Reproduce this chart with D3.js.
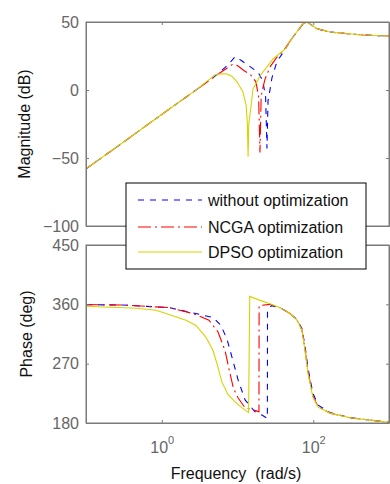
<!DOCTYPE html>
<html>
<head>
<meta charset="utf-8">
<script src="https://cdn.jsdelivr.net/npm/d3@7"></script>
<style>
  html, body { margin: 0; padding: 0; background: #fff; }
  svg { display: block; font-family: "Liberation Sans", Arial, sans-serif; }
  text { white-space: pre; }
</style>
</head>
<body>
<svg id="chart" width="390" height="484"></svg>
<script>
// Bode response of the system for three controller settings: [frequency rad/s, value]
const seriesNames = ["without optimization", "NCGA optimization", "DPSO optimization"];

const magWithout = [[0.1,-58],[0.3,-39],[1,-18],[3,1],[5,10],[7,17],[8.5,22],[9.3,24.5],[11,22],[14,18],[18.7,13],[21.5,7],[23.5,-5],[24.5,-43],[25.3,-8],[26.1,-4],[28.5,9],[33.2,21],[39.9,27.5],[54,39],[73,48.5],[83,50],[112,45],[166,42.6],[454,40.4],[1000,39.7]];
const magNCGA = [[0.1,-58],[0.3,-39],[1,-18],[3,1],[5,10],[7,15.5],[8.7,19],[10,18],[12,14.5],[15,11],[17.5,6],[19,-5],[19.8,-46],[20.5,-6],[21.1,-0.7],[23.1,8],[26.9,17],[33,24],[40,28.5],[54,39],[73,48.5],[83,50],[112,45],[166,42.6],[454,40.4],[1000,39.7]];
const magDPSO = [[0.1,-58],[0.3,-39],[1,-18],[3,1],[4.3,8],[5,11],[6,12],[7.3,11.8],[8.5,10],[9.85,6],[11.8,-1.5],[13,-11],[13.5,-25],[13.8,-49],[14.1,-25],[15.1,-11.8],[16,0.7],[19.8,10.3],[29.4,22.8],[42.4,30],[54,39],[73,48.5],[83,50],[112,45],[166,42.6],[454,40.4],[1000,39.7]];

const phaseWithout = [[0.1,359.5],[0.3,359],[1.25,355],[2.83,346],[4.75,340],[6.05,328],[7.27,307],[8.45,280],[10.2,245],[12.6,215],[17,197],[21,192],[24.8,187],[24.9,351],[28,358],[36.4,355],[49.3,346],[61,337],[71,323],[78,296],[85.3,263],[99,225],[116,207],[166,196],[305,188],[1000,181]];
const phaseNCGA = [[0.1,359.5],[0.3,359],[1.25,355],[2.59,346],[4.2,336],[5.53,318],[6.84,290],[7.96,255],[8.87,232],[10.2,218],[12.6,203],[18.1,198],[19.2,197],[19.3,358],[26.9,360],[36.4,355],[49.3,346],[61,336],[71,321],[77.8,292],[85.3,258],[99,221],[116,205],[166,195],[305,188],[1000,181]];
const phaseDPSO = [[0.1,357],[0.46,354],[0.84,351],[1.14,346],[2.09,336],[2.83,328],[3.84,310],[4.75,290],[5.36,270],[6.24,242],[7.5,223],[9.27,212],[11.5,203],[14.0,196],[14.5,372],[19.8,366],[26.9,361],[36.4,355],[49.3,346],[61,336],[71,321],[77.8,290],[85.3,255],[99,219],[116,204],[166,195],[305,188],[1000,181]];

const magTicks = [-100, -50, 0, 50];
const phaseTicks = [180, 270, 360, 450];
const freqTicks = [1, 100];

const styles = [
  { color: "#0000ff", dash: "6,6" },
  { color: "#ff0000", dash: "13,4,2,4" },
  { color: "#d4d400", dash: null }
];

const svg = d3.select("#chart");
const L = 86, R = 389;
const axisColor = "#7a7a7a";

const x = d3.scaleLog().domain([0.1, 1000]).range([L, R]);
const yMag = d3.scaleLinear().domain([-100, 50]).range([226, 22]);
const yPh = d3.scaleLinear().domain([180, 450]).range([423, 245]);

function panel(y, ticks, data, label, labelX, showX) {
  const [y0, y1] = y.range();
  const g = svg.append("g");
  const id = "clip" + Math.round(y1);
  svg.append("clipPath").attr("id", id).append("rect")
    .attr("x", L).attr("y", y1).attr("width", R - L).attr("height", y0 - y1);

  const line = d3.line().x(d => x(d[0])).y(d => y(d[1]));
  const lines = g.append("g").attr("clip-path", `url(#${id})`);
  data.forEach((s, i) => {
    lines.append("path")
      .attr("d", line(s))
      .attr("fill", "none")
      .attr("stroke", styles[i].color)
      .attr("stroke-width", 1.1)
      .attr("stroke-dasharray", styles[i].dash);
  });

  // box axes with inward ticks
  const left = g.append("g").attr("transform", `translate(${L},0)`)
    .call(d3.axisLeft(y).tickValues(ticks).tickSizeInner(-3).tickSizeOuter(0).tickPadding(7));
  const right = g.append("g").attr("transform", `translate(${R},0)`)
    .call(d3.axisRight(y).tickValues(ticks).tickSizeInner(-3).tickSizeOuter(0).tickFormat(""));
  const top = g.append("g").attr("transform", `translate(0,${y1})`)
    .call(d3.axisTop(x).tickValues(freqTicks).tickSizeInner(-3).tickSizeOuter(0).tickFormat(""));
  const bottom = g.append("g").attr("transform", `translate(0,${y0})`)
    .call(d3.axisBottom(x).tickValues(freqTicks).tickSizeInner(-3).tickSizeOuter(0).tickPadding(12)
      .tickFormat(d => ""));
  [left, right, top, bottom].forEach(a => {
    a.selectAll("path, line").attr("stroke", axisColor);
    a.selectAll("text").attr("fill", "#666").attr("font-size", 16)
      .attr("font-family", "'Liberation Sans', Arial, sans-serif");
  });
  g.append("rect").attr("x", L).attr("y", y1).attr("width", R - L).attr("height", y0 - y1)
    .attr("fill", "none").attr("stroke", axisColor).attr("stroke-width", 1);

  if (showX) {
    bottom.selectAll(".tick text").each(function(d) {
      const t = d3.select(this);
      t.text(null).attr("y", 30).attr("dy", null);
      t.append("tspan").text("10");
      t.append("tspan").attr("font-size", 11).attr("dy", -9).text(Math.round(Math.log10(d)));
    });
  }

  svg.append("text")
    .attr("transform", `translate(${labelX},${(y0 + y1) / 2}) rotate(-90)`)
    .attr("text-anchor", "middle")
    .attr("font-size", 16).attr("fill", "#111")
    .text(label);
}

panel(yMag, magTicks, [magWithout, magNCGA, magDPSO], "Magnitude (dB)", 30, false);
panel(yPh, phaseTicks, [phaseWithout, phaseNCGA, phaseDPSO], "Phase (deg)", 31.5, true);

svg.append("text")
  .attr("x", 236).attr("y", 479)
  .attr("text-anchor", "middle")
  .attr("font-size", 16).attr("fill", "#111")
  .text("Frequency  (rad/s)");

// legend
const leg = svg.append("g");
leg.append("rect").attr("x", 126).attr("y", 183).attr("width", 240).attr("height", 86)
  .attr("fill", "#fff").attr("stroke", "#000").attr("stroke-width", 1);
const rowY = [200, 227, 252];
seriesNames.forEach((name, i) => {
  leg.append("line").attr("x1", 138).attr("x2", 202).attr("y1", rowY[i]).attr("y2", rowY[i])
    .attr("stroke", styles[i].color).attr("stroke-width", 1.1)
    .attr("stroke-dasharray", styles[i].dash);
  leg.append("text").attr("x", 208).attr("y", rowY[i] + 5.5)
    .attr("font-size", 16).attr("fill", "#111").text(name);
});
</script>
</body>
</html>
